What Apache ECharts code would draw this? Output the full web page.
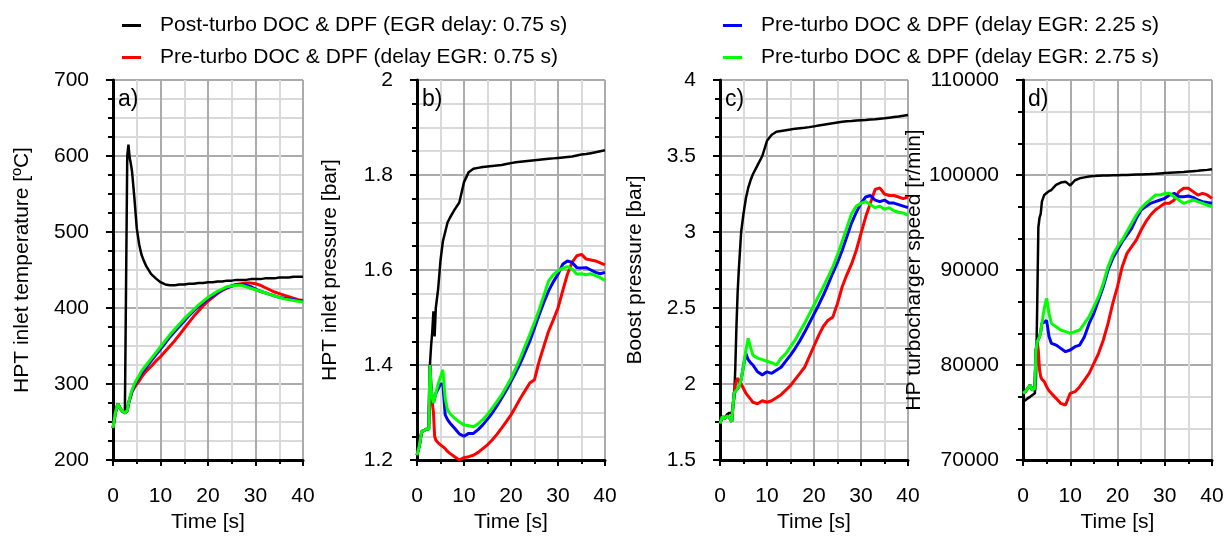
<!DOCTYPE html>
<html>
<head>
<meta charset="utf-8">
<title>HPT / boost / turbo speed</title>
<script src="https://cdn.jsdelivr.net/npm/echarts@6.0.0/dist/echarts.min.js"></script>
<style>
  html, body { margin: 0; padding: 0; background: #fff; }
  #main { width: 1231px; height: 538px; }
</style>
</head>
<body>
<div id="main"></div>
<script>
// time base [s]
var time = [0, 0.5, 1, 1.5, 2, 2.5, 2.75, 3, 3.25, 3.5, 3.75, 4, 4.5, 5, 5.5, 6, 6.5, 7,
  8, 9, 10, 11, 12, 13, 14, 15, 16, 17, 18, 19, 20, 21, 22, 23, 24, 25, 26, 27, 28, 29,
  30, 31, 32, 33, 34, 35, 36, 37, 38, 39, 40];

var seriesNames = [
  'Post-turbo DOC & DPF (EGR delay: 0.75 s)',
  'Pre-turbo DOC & DPF (delay EGR: 0.75 s)',
  'Pre-turbo DOC & DPF (delay EGR: 2.25 s)',
  'Pre-turbo DOC & DPF (delay EGR: 2.75 s)'
];
var seriesColors = ['#000000', '#ff0000', '#0000ff', '#00ff00'];

// a) HPT inlet temperature [ºC]
var tempBlack = [242, 262, 274, 268, 264, 262, 262, 600, 615, 598, 590, 580, 545, 505, 484, 470, 462, 455,
  445, 439, 434, 431, 430, 430, 431, 431, 432, 432, 433, 433, 434, 434, 435, 435, 436, 436, 437, 437,
  437, 438, 438, 438, 439, 439, 439, 440, 440, 440, 441, 441, 441];
var tempRed = [242, 262, 274, 268, 264, 262, 262, 265, 274, 279, 284, 290, 295, 300, 304, 309, 313, 317,
  323, 330, 336, 343, 350, 357, 365, 373, 381, 389, 396, 403, 409, 414, 419, 423, 426, 429, 431, 432,
  433, 433, 432, 430, 427, 424, 421, 419, 417, 415, 413, 411, 410];
var tempBlue = [242, 262, 274, 268, 264, 262, 262, 265, 274, 280, 285, 290, 298, 304, 309, 314, 318, 322,
  330, 338, 346, 354, 362, 369, 376, 383, 390, 396, 402, 407, 412, 416, 420, 424, 427, 429, 431, 431,
  430, 428, 425, 422, 420, 418, 416, 414, 413, 412, 411, 410, 409];
var tempGreen = [242, 262, 274, 268, 264, 262, 262, 265, 274, 281, 287, 292, 300, 306, 311, 317, 321, 325,
  333, 341, 349, 357, 365, 372, 379, 386, 392, 398, 404, 409, 414, 418, 422, 425, 428, 429, 430, 430,
  428, 426, 424, 422, 420, 418, 416, 414, 412, 411, 410, 409, 408];

// b) HPT inlet pressure [bar]
var hptBlack = [1.21, 1.23, 1.26, 1.262, 1.265, 1.265, 1.40, 1.44, 1.47, 1.513, 1.46, 1.52, 1.56, 1.62, 1.66, 1.68, 1.70, 1.71,
  1.727, 1.742, 1.785, 1.806, 1.813, 1.815, 1.817, 1.818, 1.819, 1.82, 1.821, 1.823, 1.825, 1.827, 1.828, 1.829, 1.83, 1.831, 1.832, 1.833,
  1.834, 1.835, 1.836, 1.837, 1.838, 1.839, 1.841, 1.843, 1.844, 1.846, 1.848, 1.85, 1.852];
var hptRed = [1.21, 1.23, 1.26, 1.262, 1.265, 1.265, 1.40, 1.35, 1.32, 1.30, 1.25, 1.242, 1.236, 1.232, 1.228, 1.224, 1.218, 1.214,
  1.207, 1.2, 1.205, 1.207, 1.21, 1.216, 1.224, 1.232, 1.242, 1.254, 1.267, 1.281, 1.295, 1.312, 1.33, 1.346, 1.362, 1.369, 1.408, 1.44,
  1.471, 1.495, 1.52, 1.556, 1.591, 1.616, 1.63, 1.633, 1.623, 1.621, 1.619, 1.615, 1.611];
var hptBlue = [1.21, 1.23, 1.26, 1.262, 1.265, 1.265, 1.40, 1.35, 1.33, 1.32, 1.33, 1.34, 1.35, 1.36, 1.36, 1.295, 1.285, 1.278,
  1.267, 1.255, 1.25, 1.256, 1.256, 1.264, 1.274, 1.286, 1.299, 1.314, 1.33, 1.347, 1.365, 1.384, 1.404, 1.427, 1.45, 1.478, 1.506, 1.532,
  1.556, 1.575, 1.591, 1.612, 1.619, 1.616, 1.605, 1.604, 1.605, 1.6, 1.595, 1.592, 1.595];
var hptGreen = [1.21, 1.23, 1.26, 1.262, 1.265, 1.265, 1.40, 1.35, 1.33, 1.32, 1.33, 1.34, 1.36, 1.375, 1.39, 1.33, 1.305, 1.298,
  1.288, 1.28, 1.274, 1.272, 1.27, 1.276, 1.285, 1.296, 1.309, 1.323, 1.337, 1.354, 1.372, 1.393, 1.415, 1.44, 1.464, 1.49, 1.517, 1.547,
  1.577, 1.59, 1.598, 1.604, 1.607, 1.602, 1.591, 1.592, 1.59, 1.592, 1.588, 1.584, 1.578];

// c) Boost pressure [bar]
var boostBlack = [1.75, 1.78, 1.78, 1.8, 1.81, 1.81, 1.82, 1.9, 2.1, 2.38, 2.6, 2.75, 3.0, 3.12, 3.22, 3.29, 3.34, 3.38,
  3.44, 3.5, 3.6, 3.64, 3.66, 3.665, 3.67, 3.675, 3.68, 3.683, 3.686, 3.69, 3.695, 3.7, 3.705, 3.71, 3.715, 3.72, 3.725, 3.728,
  3.73, 3.733, 3.735, 3.737, 3.74, 3.742, 3.745, 3.748, 3.752, 3.756, 3.76, 3.765, 3.77];
var boostRed = [1.74, 1.785, 1.774, 1.79, 1.78, 1.752, 1.85, 1.94, 1.99, 2.02, 2.04, 2.02, 2.0, 1.97, 1.94, 1.92, 1.9, 1.88,
  1.87, 1.89, 1.88, 1.89, 1.91, 1.93, 1.96, 1.99, 2.03, 2.07, 2.11, 2.18, 2.25, 2.32, 2.38, 2.42, 2.44, 2.53, 2.64, 2.72,
  2.79, 2.88, 2.99, 3.1, 3.19, 3.28, 3.29, 3.25, 3.24, 3.24, 3.23, 3.22, 3.23];
var boostBlue = [1.74, 1.785, 1.774, 1.79, 1.78, 1.752, 1.85, 1.94, 1.95, 1.96, 1.96, 1.98, 2.03, 2.12, 2.2, 2.16, 2.14, 2.125,
  2.08, 2.06, 2.08, 2.07, 2.09, 2.11, 2.15, 2.19, 2.235, 2.285, 2.34, 2.4, 2.46, 2.52, 2.585, 2.655, 2.73, 2.8, 2.88, 2.97,
  3.06, 3.13, 3.19, 3.23, 3.24, 3.21, 3.2, 3.21, 3.19, 3.19, 3.18, 3.17, 3.16];
var boostGreen = [1.74, 1.785, 1.774, 1.79, 1.78, 1.752, 1.85, 1.94, 1.95, 1.96, 1.96, 1.98, 2.03, 2.12, 2.22, 2.30, 2.24, 2.19,
  2.17, 2.16, 2.15, 2.14, 2.125, 2.17, 2.2, 2.246, 2.29, 2.345, 2.4, 2.46, 2.52, 2.58, 2.64, 2.705, 2.77, 2.85, 2.94, 3.03,
  3.12, 3.17, 3.19, 3.2, 3.18, 3.16, 3.17, 3.15, 3.16, 3.14, 3.13, 3.125, 3.11];

// d) HP turbocharger speed [r/min]
var speedBlack = [76140, 76300, 76490, 76650, 76840, 77020, 78500, 86000, 94500, 95500, 95900, 97200, 97900, 98100, 98300, 98420, 98700, 98950,
  99200, 99300, 98900, 99450, 99650, 99750, 99850, 99890, 99920, 99940, 99960, 99970, 99980, 99990, 100000, 100020, 100040, 100060, 100080, 100100,
  100130, 100170, 100200, 100230, 100260, 100290, 100320, 100360, 100400, 100440, 100490, 100540, 100600];
var speedRed = [77020, 77200, 77540, 77890, 77370, 77540, 81500, 82450, 81500, 79500, 78770, 78500, 78250, 77720, 77300, 77020, 76750, 76490,
  75960, 75790, 77020, 77190, 77720, 78420, 79120, 80180, 81230, 82630, 84380, 86490, 88250, 90350, 91750, 92460, 93160, 94210, 95090, 95790,
  96320, 96670, 97020, 97020, 97370, 98250, 98600, 98600, 98250, 97890, 98070, 97900, 97540];
var speedBlue = [77020, 77200, 77540, 77890, 77370, 77540, 81500, 82450, 82700, 82980, 83500, 84380, 84500, 84700, 83000, 82280, 82200, 82100,
  81750, 81400, 81580, 81930, 82100, 82980, 84380, 85440, 86840, 88250, 90000, 91230, 92110, 92980, 93680, 94390, 95440, 96320, 96670, 97020,
  97190, 97370, 97540, 97890, 98070, 97720, 97720, 97790, 97650, 97370, 97190, 97100, 97020];
var speedGreen = [77020, 77200, 77540, 77890, 77370, 77540, 81500, 82450, 82700, 82980, 83500, 84380, 85960, 87020, 85440, 84380, 84200, 84030,
  83680, 83510, 83330, 83510, 83680, 84380, 85090, 86140, 87190, 88600, 90350, 91580, 92460, 93160, 94040, 94910, 95790, 96490, 97020, 97440,
  97890, 97890, 98070, 98070, 97720, 97370, 97020, 97190, 97370, 97190, 97020, 96840, 96670];

var panels = [
  { tag: 'a)', name: 'HPT inlet temperature [ºC]', min: 200, max: 700, interval: 100, minorSplit: 4,
    left: 113, width: 190, nameGap: 80, data: [tempBlack, tempRed, tempBlue, tempGreen] },
  { tag: 'b)', name: 'HPT inlet pressure [bar]', min: 1.2, max: 2, interval: 0.2, minorSplit: 4,
    left: 417, width: 188, nameGap: 76, data: [hptBlack, hptRed, hptBlue, hptGreen] },
  { tag: 'c)', name: 'Boost pressure [bar]', min: 1.5, max: 4, interval: 0.5, minorSplit: 4,
    left: 720, width: 188, nameGap: 74, data: [boostBlack, boostRed, boostBlue, boostGreen] },
  { tag: 'd)', name: 'HP turbocharger speed [r/min]', min: 70000, max: 110000, interval: 10000, minorSplit: 3,
    left: 1023, width: 189, nameGap: 75, data: [speedBlack, speedRed, speedBlue, speedGreen] }
];

var FONT = 'Liberation Sans, Arial, sans-serif';
var FS = 21;
var PLOT_TOP = 80, PLOT_H = 380;

function pairs(vals) {
  var out = [];
  for (var i = 0; i < time.length; i++) {
    out.push([time[i], vals[i]]);
  }
  return out;
}

var grids = [], xAxes = [], yAxes = [], series = [], graphics = [];
for (var p = 0; p < panels.length; p++) {
  var pn = panels[p];
  grids.push({ left: pn.left, top: PLOT_TOP, width: pn.width, height: PLOT_H });
  xAxes.push({
    type: 'value', gridIndex: p, min: 0, max: 40, interval: 10,
    name: 'Time [s]', nameLocation: 'middle', nameGap: 41,
    nameTextStyle: { fontSize: FS, color: '#000', fontFamily: FONT },
    axisLine: { onZero: false, lineStyle: { color: '#000', width: 3 } },
    axisTick: { show: true, length: 6, lineStyle: { color: '#000', width: 2 } },
    minorTick: { show: true, splitNumber: 2, length: 4, lineStyle: { color: '#000', width: 2 } },
    axisLabel: { fontSize: FS, color: '#000', fontFamily: FONT, margin: 26 },
    splitLine: { show: true, lineStyle: { color: '#ababab', width: 2 } },
    minorSplitLine: { show: true, lineStyle: { color: '#d9d9d9', width: 2 } }
  });
  yAxes.push({
    type: 'value', gridIndex: p, min: pn.min, max: pn.max, interval: pn.interval,
    name: pn.name, nameLocation: 'middle', nameGap: pn.nameGap, nameRotate: 90,
    nameTextStyle: { fontSize: FS, color: '#000', fontFamily: FONT },
    axisLine: { show: true, onZero: false, lineStyle: { color: '#000', width: 3 } },
    axisTick: { show: true, length: 7, lineStyle: { color: '#000', width: 2 } },
    minorTick: { show: true, splitNumber: pn.minorSplit, length: 5, lineStyle: { color: '#000', width: 2 } },
    axisLabel: {
      fontSize: FS, color: '#000', fontFamily: FONT, margin: 24,
      formatter: function (v) { return String(+v.toFixed(4)); }
    },
    splitLine: { show: true, lineStyle: { color: '#ababab', width: 2 } },
    minorSplitLine: { show: true, lineStyle: { color: '#d9d9d9', width: 2 } }
  });
  for (var s = 0; s < 4; s++) {
    series.push({
      name: seriesNames[s], type: 'line', xAxisIndex: p, yAxisIndex: p,
      data: pairs(pn.data[s]), showSymbol: false, smooth: false,
      lineStyle: { color: seriesColors[s], width: s === 0 ? 2.5 : 3 },
      itemStyle: { color: seriesColors[s] }
    });
  }
  graphics.push({
    type: 'text', left: pn.left + 5, top: 88, z: 100,
    style: { text: pn.tag, fontSize: 23, fill: '#000', fontFamily: FONT }
  });
}

var legendCommon = {
  orient: 'vertical', top: 10, itemWidth: 19, itemHeight: 3, itemGap: 11, icon: 'rect',
  selectedMode: false,
  textStyle: { fontSize: FS, color: '#000', fontFamily: FONT, padding: [0, 0, 0, 14], lineHeight: 21 }
};

var myChart = echarts.init(document.getElementById('main'), null, { renderer: 'canvas' });
var option = {
  backgroundColor: '#fff',
  animation: false,
  legend: [
    Object.assign({}, legendCommon, { left: 117, data: [seriesNames[0], seriesNames[1]] }),
    Object.assign({}, legendCommon, { left: 718, data: [seriesNames[2], seriesNames[3]] })
  ],
  grid: grids,
  xAxis: xAxes,
  yAxis: yAxes,
  series: series,
  graphic: graphics
};
myChart.setOption(option);
</script>
</body>
</html>
